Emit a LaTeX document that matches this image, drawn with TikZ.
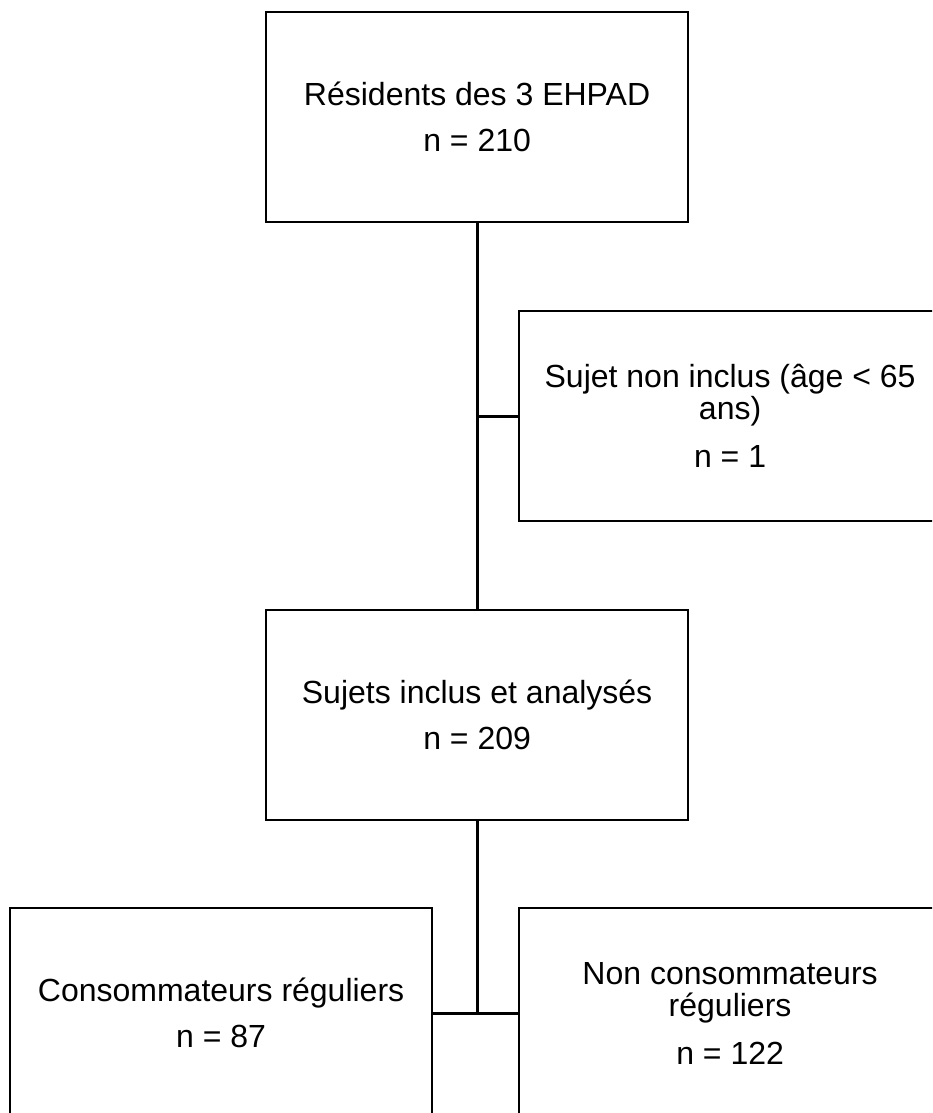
\documentclass[tikz,border=0pt]{standalone}
\usepackage{fontspec}
\setmainfont{Liberation Sans}
\begin{document}
\begin{tikzpicture}[x=1pt,y=-1pt,
  box/.style={draw=black, line width=2.2pt, minimum width=422pt, minimum height=210pt,
    inner sep=0pt, align=center, font=\fontsize{32}{32}\selectfont, anchor=north west},
  link/.style={draw=black, line width=3pt}]
\useasboundingbox (0,0) rectangle (932,1113);
\clip (0,0) rectangle (932,1113);
\node[box] (top) at (265,11) {Résidents des 3 EHPAD\\[14pt]n = 210};
\node[box] (excl) at (518,310) {Sujet non inclus (âge < 65\\ans)\\[16pt]n = 1};
\node[box] (mid) at (265,609) {Sujets inclus et analysés\\[14pt]n = 209};
\node[box] (cons) at (9,907) {Consommateurs réguliers\\[14pt]n = 87};
\node[box] (ncons) at (518,907) {Non consommateurs\\réguliers\\[16pt]n = 122};
\coordinate (j1) at (top.south |- excl.west);
\coordinate (j2) at (mid.south |- cons.east);
\draw[link] (top.south) -- (mid.north);
\draw[link] (j1) -- (excl.west);
\draw[link] (mid.south) -- (j2);
\draw[link] (cons.east) -- (ncons.west);
\end{tikzpicture}
\end{document}
